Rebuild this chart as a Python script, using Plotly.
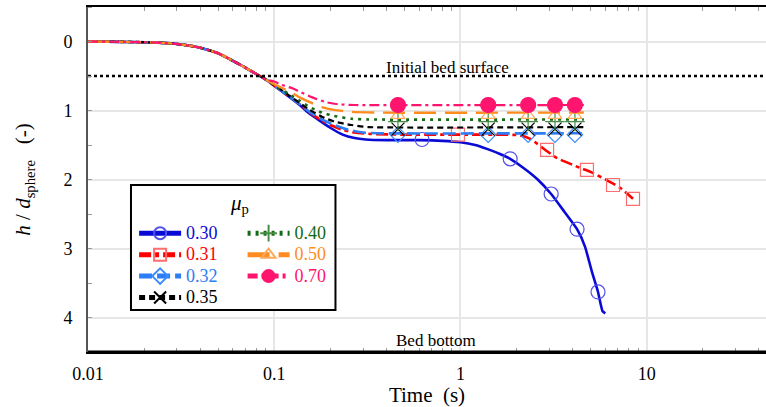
import math
import plotly.graph_objects as go

# ---------------- data ----------------
t_common = [0.01, 0.02, 0.025, 0.03, 0.035, 0.04, 0.05, 0.06, 0.07, 0.08, 0.09]
h_common = [0.0, 0.01, 0.02, 0.035, 0.06, 0.09, 0.17, 0.28, 0.38, 0.47, 0.55]

t_030 = [0.1, 0.12, 0.137, 0.152, 0.176, 0.2, 0.233, 0.27, 0.31, 0.4, 0.6, 0.8, 1.0, 1.2, 1.4,
         1.63, 1.85, 2.2, 2.6, 3.07, 3.6, 4.23, 4.66, 5.1, 5.48, 5.8, 6.0]
h_030 = [0.64, 0.80, 0.92, 1.03, 1.15, 1.25, 1.35, 1.40, 1.42, 1.43, 1.43, 1.44, 1.46, 1.50, 1.56,
         1.63, 1.70, 1.84, 2.00, 2.21, 2.46, 2.72, 2.97, 3.35, 3.63, 3.91, 3.94]
t_030_mk = [0.622, 1.85, 3.07, 4.23, 5.48]
h_030_mk = [1.42, 1.70, 2.21, 2.72, 3.63]

t_031 = [0.1, 0.12, 0.137, 0.152, 0.176, 0.2, 0.233, 0.27, 0.33, 0.5, 1.0, 1.5, 2.09, 2.37,
         2.92, 3.3, 4.37, 5.1, 6.3, 7.2, 8.45]
h_031 = [0.64, 0.79, 0.91, 1.01, 1.13, 1.21, 1.28, 1.32, 1.34, 1.35, 1.35, 1.35, 1.36, 1.41,
         1.59, 1.69, 1.83, 1.90, 2.03, 2.12, 2.28]
t_031_mk = [0.97, 2.92, 4.78, 6.6, 8.45]
h_031_mk = [1.35, 1.57, 1.86, 2.08, 2.28]

t_plateau_mk = [0.462, 1.41, 2.31, 3.22, 4.12]

t_032 = [0.1, 0.12, 0.137, 0.155, 0.18, 0.21, 0.25, 0.3, 0.36, 4.6]
h_032 = [0.64, 0.79, 0.91, 1.02, 1.13, 1.21, 1.28, 1.32, 1.33, 1.33]
h_032_mk = [1.35, 1.35, 1.35, 1.35, 1.35]

t_035 = [0.1, 0.12, 0.137, 0.155, 0.18, 0.21, 0.26, 0.32, 4.6]
h_035 = [0.63, 0.78, 0.89, 0.99, 1.09, 1.16, 1.21, 1.24, 1.24]
h_035_mk = [1.27, 1.27, 1.27, 1.27, 1.27]

t_040 = [0.1, 0.12, 0.137, 0.155, 0.18, 0.21, 0.26, 0.32, 4.6]
h_040 = [0.63, 0.76, 0.86, 0.95, 1.03, 1.08, 1.12, 1.13, 1.13]
h_040_mk = [1.16, 1.16, 1.16, 1.16, 1.16]

t_050 = [0.1, 0.12, 0.137, 0.155, 0.18, 0.21, 0.26, 0.35, 4.6]
h_050 = [0.62, 0.72, 0.81, 0.88, 0.95, 0.99, 1.02, 1.03, 1.03]
h_050_mk = [1.07, 1.07, 1.07, 1.07, 1.07]

t_070 = [0.1, 0.11, 0.126, 0.14, 0.16, 0.19, 0.22, 0.27, 4.6]
h_070 = [0.58, 0.63, 0.68, 0.74, 0.81, 0.88, 0.91, 0.92, 0.92]
h_070_mk = [0.92, 0.92, 0.92, 0.92, 0.92]

labels = ["0.30", "0.31", "0.32", "0.35", "0.40", "0.50", "0.70"]
bed_surface = 0.5
bed_bottom = 4.5
x_tick_vals = [0.01, 0.1, 1, 10]
x_tick_text = ["0.01", "0.1", "1", "10"]
y_tick_vals = [0, 1, 2, 3, 4]

# ---------------- styles ----------------
FONT = "Liberation Serif"
series = [
    # label, t, h, t_mk, h_mk, line color, dash, width, marker symbol, marker color, msize, legend
    ("0.30", t_030, h_030, t_030_mk, h_030_mk, "rgb(10,10,215)", "solid", 2.6, "circle-open", "rgb(80,80,235)", 14, "legend"),
    ("0.31", t_031, h_031, t_031_mk, h_031_mk, "rgb(255,0,0)", "12px,4px,4px,4px", 2.6, "square-open", "rgb(255,110,110)", 13, "legend"),
    ("0.32", t_032, h_032, t_plateau_mk, h_032_mk, "rgb(45,125,245)", "13px,5px", 2.6, "diamond-open", "rgb(60,140,255)", 12, "legend"),
    ("0.35", t_035, h_035, t_plateau_mk, h_035_mk, "rgb(0,0,0)", "6px,4px", 2.2, "x-thin-open", "rgb(0,0,0)", 13, "legend"),
    ("0.40", t_040, h_040, t_plateau_mk, h_040_mk, "rgb(20,105,20)", "3px,5px", 2.6, "cross-thin-open", "rgb(70,140,70)", 14, "legend2"),
    ("0.50", t_050, h_050, t_plateau_mk, h_050_mk, "rgb(255,140,30)", "22px,9px", 2.4, "triangle-up-open", "rgb(255,170,90)", 12, "legend2"),
    ("0.70", t_070, h_070, t_plateau_mk, h_070_mk, "rgb(255,20,110)", "10px,4px,3px,4px", 2.2, "circle", "rgb(255,20,110)", 15, "legend2"),
]

fig = go.Figure()
for lab, tt, hh, tm, hm, col, dash, w, sym, mcol, ms, leg in series:
    fig.add_trace(go.Scatter(x=t_common + tt, y=h_common + hh, mode="lines",
                             line=dict(color=col, dash=dash, width=w, shape="spline", smoothing=0.5),
                             showlegend=False, hoverinfo="skip"))
    fig.add_trace(go.Scatter(x=tm, y=hm, mode="markers",
                             marker=dict(symbol=sym, size=ms, color=mcol, line=dict(color=mcol, width=1.2)),
                             showlegend=False, hoverinfo="skip"))
    fig.add_trace(go.Scatter(x=[None], y=[None], mode="lines+markers", legend=leg,
                             name=f'<span style="color:{col};font-size:18px">{lab}</span>',
                             line=dict(color=col, dash=dash, width=1.8),
                             marker=dict(symbol=sym, size=ms, color=mcol, line=dict(color=mcol, width=1.2))))

# initial bed surface (dotted)
fig.add_trace(go.Scatter(x=[0.01, 10 ** 1.641], y=[bed_surface, bed_surface], mode="lines",
                         line=dict(color="black", dash="dot", width=2.5), showlegend=False, hoverinfo="skip"))

minor_x = [m * 10 ** e for e in range(-2, 2) for m in range(2, 10)]

fig.update_layout(
    width=766, height=407,
    margin=dict(l=88, r=0, t=7, b=55),
    paper_bgcolor="white", plot_bgcolor="white",
    font=dict(family=FONT, size=18, color="black"),
    xaxis=dict(type="log", range=[-2, 1.641], tickmode="array", tickvals=x_tick_vals, ticktext=x_tick_text,
               showgrid=True, gridcolor="#e6e6e6", gridwidth=1.5, zeroline=False, automargin=False,
               showline=True, linecolor="black", linewidth=1.5, mirror="allticks", ticks="",
               minor=dict(tickmode="array", tickvals=minor_x, ticks="inside", ticklen=4,
                          tickcolor="#9a9a9a", showgrid=False),
               ticklabelstandoff=5,
               title=dict(text="Time\u00a0\u00a0(s)", font=dict(family=FONT, size=21), standoff=0)),
    yaxis=dict(range=[bed_bottom, -0.5], tickmode="array", tickvals=y_tick_vals,
               showgrid=True, gridcolor="#e6e6e6", gridwidth=1.5, zeroline=False, automargin=False,
               showline=True, linecolor="#555555", linewidth=1.8, ticks="",
               minor=dict(dtick=0.5, ticks="inside", ticklen=4, tickcolor="#9a9a9a", showgrid=False),
               ticklabelstandoff=10,
               title=dict(text="<i>h</i> / <i>d</i><sub>sphere</sub>\u00a0\u00a0\u00a0(-)",
                          font=dict(family=FONT, size=21), standoff=27)),
    legend=dict(x=0.068, y=0.39, xanchor="left", yanchor="top", bgcolor="rgba(0,0,0,0)",
                font=dict(family=FONT, size=14.2), tracegroupgap=0, itemsizing="constant", itemwidth=42),
    legend2=dict(x=0.228, y=0.39, xanchor="left", yanchor="top", bgcolor="rgba(0,0,0,0)",
                 font=dict(family=FONT, size=14.2), tracegroupgap=0, itemsizing="constant", itemwidth=42),
    shapes=[
        dict(type="rect", xref="paper", yref="paper", x0=0.0634, x1=0.365, y0=0.122, y1=0.484,
             line=dict(color="black", width=2), fillcolor="white", layer="above"),
        dict(type="line", xref="paper", yref="paper", x0=0, x1=1, y0=0, y1=0,
             line=dict(color="black", width=3)),
    ],
    annotations=[
        dict(text="Initial bed surface", x=math.log10(0.847), y=0.37, xref="x", yref="y",
             showarrow=False, font=dict(family=FONT, size=17)),
        dict(text="Bed bottom", x=math.log10(0.74), y=4.34, xref="x", yref="y",
             showarrow=False, font=dict(family=FONT, size=17)),
        dict(text="<i>\u03bc</i><sub>p</sub>", x=0.2065, y=0.43, xref="paper", yref="paper",
             showarrow=False, font=dict(family=FONT, size=21)),
    ],
)

fig.write_html("out.html", config={"displayModeBar": False},
               post_script="document.body.style.margin='0';")
